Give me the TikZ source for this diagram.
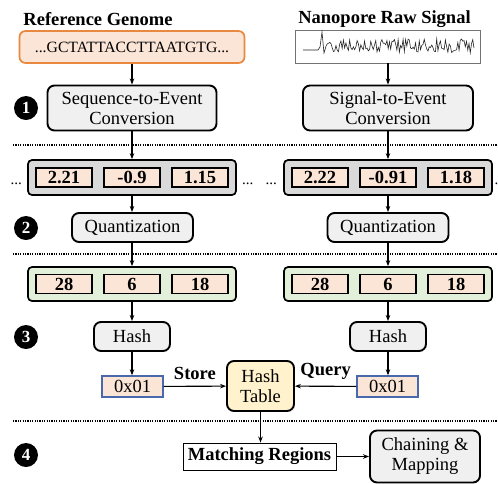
\documentclass[tikz,border=0pt]{standalone}
\usepackage{fontspec}
\setmainfont{Liberation Serif}
\usetikzlibrary{arrows.meta,positioning}

\definecolor{boxgray}{HTML}{F0F0F0}
\definecolor{rowgray}{HTML}{D9D9D9}
\definecolor{peach}{HTML}{FBE5D6}
\definecolor{seqorange}{HTML}{E8893F}
\definecolor{rowgreen}{HTML}{E2F0D9}
\definecolor{tableyellow}{HTML}{FFF2CC}
\definecolor{keyblue}{HTML}{4A68AC}

\tikzset{
  txt/.style={font=\fontsize{18.5}{20}\selectfont},
  ttl/.style={font=\fontsize{18.5}{20}\selectfont\bfseries},
  procbox/.style={draw, line width=1.9pt, rounded corners=7pt, fill=boxgray, align=center, inner sep=0pt, txt},
  rowbox/.style={draw, line width=1.7pt, rounded corners=4pt, minimum width=208pt, minimum height=35pt},
  valbox/.style={draw, line width=1.6pt, fill=peach, minimum width=56pt, minimum height=19pt, inner sep=0pt, ttl},
  keybox/.style={draw=keyblue, line width=1.4pt, fill=peach, minimum width=61pt, minimum height=21pt, inner sep=0pt, txt},
  stepnum/.style={circle, fill=black, text=white, minimum size=24pt, inner sep=0pt, font=\fontsize{17}{17}\selectfont\bfseries},
  sep/.style={line width=1.1pt, dash pattern=on 1.1pt off 1.3pt},
  flow/.style={-{Stealth[length=6pt,width=4.5pt]}, line width=1.1pt},
  dots/.style={inner sep=0pt, font=\fontsize{15}{15}\selectfont},
}

\begin{document}
\begin{tikzpicture}[x=1pt,y=-1pt]
\useasboundingbox (0,0) rectangle (498,483);
\clip (0,0) rectangle (498,483);

% separators between the steps
\draw[sep] (13,145) -- (498,145);
\draw[sep] (13,254) -- (498,254);
\draw[sep] (13,421) -- (498,421);

% inputs
\node[ttl] (refttl) at (98,19) {Reference Genome};
\node[draw=seqorange, line width=1.7pt, rounded corners=6pt, fill=peach, minimum width=225pt, minimum height=32pt, font=\fontsize{15.7}{18}\selectfont] (genome) at (132,47) {...GCTATTACCTTAATGTG...};
\node[ttl] (sigttl) at (384.5,19) {Nanopore Raw Signal};
\node[draw=black!55, line width=0.8pt, minimum width=185pt, minimum height=33pt] (signal) at (388,46.5) {};
\pgfmathsetseed{11}
\draw[black!85, line width=0.6pt] (303,50) -- (318,50) -- (320,47) -- (322,32) -- (324,53) -- plot[domain=326:474, samples=120] (\x,{46+7*rand});

% step 1
\node[stepnum] (n1) at (26,108) {1};
\node[procbox, minimum width=169pt, minimum height=45pt] (seqev) at (132,108) {Sequence-to-Event\\Conversion};
\node[procbox, minimum width=170pt, minimum height=45pt] (sigev) at (388,108) {Signal-to-Event\\Conversion};

% events
\node[rowbox, fill=rowgray] (evL) at (132,177.5) {};
\node[valbox] (evL1) at (64,177.5) {2.21};
\node[valbox] (evL2) at (132,177.5) {-0.9};
\node[valbox] (evL3) at (200,177.5) {1.15};
\node[rowbox, fill=rowgray] (evR) at (388,177.5) {};
\node[valbox] (evR1) at (320,177.5) {2.22};
\node[valbox] (evR2) at (388,177.5) {-0.91};
\node[valbox] (evR3) at (456,177.5) {1.18};
\node[dots, anchor=east] (dl) at ([xshift=-5pt,yshift=-6pt]evL.west) {...};
\node[dots, anchor=west] (dm1) at ([xshift=5pt,yshift=-6pt]evL.east) {...};
\node[dots, anchor=east] (dm2) at ([xshift=-6pt,yshift=-6pt]evR.west) {...};
\node[dots, anchor=west] (dr) at ([xshift=1.5pt,yshift=-6pt]evR.east) {.};

% step 2
\node[stepnum] (n2) at (26,228) {2};
\node[procbox, minimum width=121pt, minimum height=29pt] (quL) at (132.5,227.5) {Quantization};
\node[procbox, minimum width=121pt, minimum height=29pt] (quR) at (388,227.5) {Quantization};

% quantized events
\node[rowbox, fill=rowgreen, minimum height=34pt] (qvL) at (132,284) {};
\node[valbox] (qvL1) at (64,284) {28};
\node[valbox] (qvL2) at (132,284) {6};
\node[valbox] (qvL3) at (200,284) {18};
\node[rowbox, fill=rowgreen, minimum height=34pt] (qvR) at (388,284) {};
\node[valbox] (qvR1) at (320,284) {28};
\node[valbox] (qvR2) at (388,284) {6};
\node[valbox] (qvR3) at (456,284) {18};

% step 3
\node[stepnum] (n3) at (26,337) {3};
\node[procbox, minimum width=76pt, minimum height=29pt] (hashL) at (132,336.5) {Hash};
\node[procbox, minimum width=76pt, minimum height=29pt] (hashR) at (388,336.5) {Hash};
\node[keybox] (keyL) at (132.5,386.5) {0x01};
\node[keybox] (keyR) at (387.5,386.5) {0x01};
\node[procbox, fill=tableyellow, minimum width=67pt, minimum height=50pt] (table) at (260.5,386) {Hash\\Table};

% step 4
\node[stepnum] (n4) at (26,455) {4};
\node[draw, line width=0.9pt, fill=white, minimum width=153pt, minimum height=27pt, inner sep=0pt, ttl] (match) at (259.5,456.5) {Matching Regions};
\node[procbox, minimum width=110pt, minimum height=52pt] (chain) at (425,456.5) {Chaining \&\\Mapping};

% connectors
\draw[flow] (genome) -- (seqev);
\draw[flow] (signal) -- (sigev);
\draw[flow] (seqev) -- (evL);
\draw[flow] (sigev) -- (evR);
\draw[flow] (evL) -- (quL.north -| evL);
\draw[flow] (evR) -- (quR);
\draw[flow] (quL.south -| qvL) -- (qvL);
\draw[flow] (quR) -- (qvR);
\draw[flow] (qvL) -- (hashL);
\draw[flow] (qvR) -- (hashR);
\draw[flow] (hashL) -- (hashL |- keyL.north);
\draw[flow] (hashR) -- (hashR |- keyR.north);
\draw[flow] (keyL) -- node[above, ttl, yshift=3pt] {Store} (table);
\draw[flow] (keyR) -- node[above, ttl, yshift=3pt] {Query} (table);
\draw[flow] (table) -- (table |- match.north);
\draw[flow] (match) -- (chain);
\end{tikzpicture}
\end{document}
